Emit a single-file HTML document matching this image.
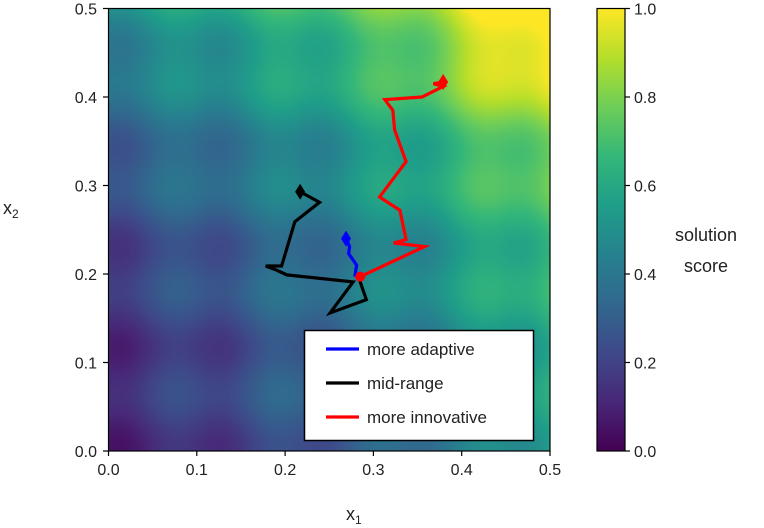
<!DOCTYPE html>
<html><head><meta charset="utf-8"><style>
body{margin:0;background:#fff;width:764px;height:528px;overflow:hidden;font-family:"Liberation Sans",sans-serif}
#wrap{position:relative;width:764px;height:528px}
canvas{position:absolute}
svg{position:absolute;left:0;top:0}
</style></head><body>
<div id="wrap">
<canvas id="heat" width="442" height="443" style="left:108px;top:8px"></canvas>
<canvas id="cbar" width="28" height="443" style="left:597px;top:8px"></canvas>
<svg id="svg" width="764" height="528"></svg>
</div>
<script>
const xTicks=[0,0.1,0.2,0.3,0.4,0.5];
const yTicks=[0,0.1,0.2,0.3,0.4,0.5];
const cTicks=[0,0.2,0.4,0.6,0.8,1.0];
const adaptiveX=[0.279,0.281,0.272,0.273,0.269];
const adaptiveY=[0.197,0.210,0.223,0.231,0.240];
const midX=[0.283,0.292,0.251,0.277,0.202,0.189,0.178,0.196,0.211,0.239,0.228,0.217];
const midY=[0.197,0.171,0.156,0.191,0.199,0.205,0.209,0.209,0.259,0.281,0.287,0.293];
const innovX=[0.285,0.358,0.323,0.337,0.330,0.307,0.337,0.324,0.322,0.313,0.355,0.379,0.368,0.379];
const innovY=[0.197,0.231,0.235,0.239,0.272,0.287,0.327,0.363,0.385,0.397,0.400,0.412,0.415,0.417];

const X0=108.5,X1=550,Y0=451,Y1=8.5;
const sx=v=>X0+(v-0)/0.5*(X1-X0);
const sy=v=>Y0-(v-0)/0.5*(Y0-Y1);
const V=[[68,1,84],[72,40,120],[62,74,137],[49,104,142],[38,130,142],[31,158,137],[53,183,121],[110,206,88],[181,222,43],[253,231,37]];
function vir(t){t=Math.max(0,Math.min(1,t))*(V.length-1);const i=Math.min(V.length-2,Math.floor(t)),f=t-i;return V[i].map((c,k)=>Math.round(c+(V[i+1][k]-c)*f));}
function field(x,y){const p=0.115;
 const b=0.12-0.03*x+0.07*y+0.6*x*y+1.46*(x*x+y*y)+0.04*Math.sin(Math.PI*x/0.5)
   +0.25*x*(1-2*y)+0.12*Math.exp(-((x-0.46)**2+(y-0.46)**2)/0.006);
 const m=-(Math.cos(2*Math.PI*(x-0.015)/p)+Math.cos(2*Math.PI*(y-0.12)/p))*0.04;return b+m;}
const hc=document.getElementById('heat').getContext('2d');
const W=442,H=443,img=hc.createImageData(W,H);
for(let j=0;j<H;j++)for(let i=0;i<W;i++){const x=i/W*0.5,y=(1-j/H)*0.5;const c=vir(field(x,y));const o=(j*W+i)*4;img.data[o]=c[0];img.data[o+1]=c[1];img.data[o+2]=c[2];img.data[o+3]=255;}
hc.putImageData(img,0,0);
const cc=document.getElementById('cbar').getContext('2d');
for(let j=0;j<443;j++){const c=vir(1-j/442);cc.fillStyle=`rgb(${c})`;cc.fillRect(0,j,28,1);}
const svg=document.getElementById('svg');const NS='http://www.w3.org/2000/svg';
function el(t,a,txt,par){const e=document.createElementNS(NS,t);for(const k in a)e.setAttribute(k,a[k]);if(txt!==undefined)e.textContent=txt;(par||svg).appendChild(e);return e;}
let e,t;
e=el('rect',{x:108.5,y:8.5,width:441.5,height:442.5,fill:'none',stroke:'#000','stroke-width':1.2});


xTicks.forEach(v=>{e=el('line',{x1:sx(v),x2:sx(v),y1:451,y2:456,stroke:'#000','stroke-width':1.2});


e=el('text',{x:sx(v),y:475,'font-size':16,'text-anchor':'middle',fill:'#222'},v.toFixed(1));

});
yTicks.forEach(v=>{e=el('line',{x1:103,x2:108.5,y1:sy(v),y2:sy(v),stroke:'#000','stroke-width':1.2});


e=el('text',{x:97,y:sy(v)+6,'font-size':16,'text-anchor':'end',fill:'#222'},v.toFixed(1));

});
t=el('text',{x:346,y:520,'font-size':18,fill:'#222'},'x');


el('tspan',{dy:4,'font-size':12},'1',t);
t=el('text',{x:3,y:214,'font-size':18,fill:'#222'},'x');


el('tspan',{dy:4,'font-size':12},'2',t);
e=el('rect',{x:597,y:8.5,width:28,height:442.5,fill:'none',stroke:'#000','stroke-width':1.2});


const cy=v=>451-v*442.5;
cTicks.forEach(v=>{e=el('line',{x1:625,x2:630,y1:cy(v),y2:cy(v),stroke:'#000','stroke-width':1.2});


e=el('text',{x:634,y:cy(v)+6,'font-size':16,fill:'#222'},v.toFixed(1));

});
e=el('text',{x:706,y:241,'font-size':18,'text-anchor':'middle',fill:'#222'},'solution');


e=el('text',{x:706,y:272,'font-size':18,'text-anchor':'middle',fill:'#222'},'score');


function series(xs,ys,col,name){const pts=xs.map((x,i)=>sx(x)+','+sy(ys[i])).join(' ');
 e=el('polyline',{points:pts,fill:'none',stroke:col,'stroke-width':3.2,'stroke-linejoin':'miter'});
 
 
 const n=xs.length-1,ex=sx(xs[n]),ey=sy(ys[n]);
 e=el('polygon',{points:`${ex},${ey-8} ${ex+5},${ey} ${ex},${ey+8} ${ex-5},${ey}`,fill:col});
 
 }
series(midX,midY,'#000','mid-range');
series(adaptiveX,adaptiveY,'#0000ff','more-adaptive');
series(innovX,innovY,'#ff0000','more-innovative');
e=el('circle',{cx:sx(innovX[0]),cy:sy(innovY[0]),r:5,fill:'#ff0000'});


e=el('rect',{x:304.5,y:330.5,width:229,height:110,fill:'#fff',stroke:'#000','stroke-width':1.5});


[['#0000ff','more adaptive'],['#000','mid-range'],['#ff0000','more innovative']].forEach((d,i)=>{const y=349+i*34;
 e=el('line',{x1:326,x2:359,y1:y,y2:y,stroke:d[0],'stroke-width':3.2});
 
 
 e=el('text',{x:367,y:y+6,'font-size':17,fill:'#222'},d[1]);
 
 });
</script>
</body></html>
